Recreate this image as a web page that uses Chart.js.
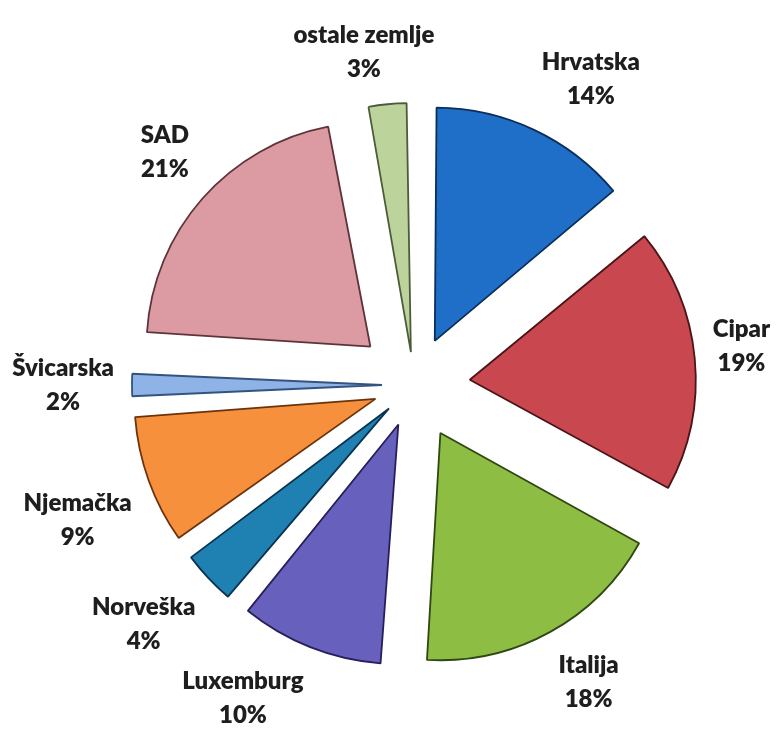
<!DOCTYPE html>
<html lang="hr">
<head>
  <meta charset="UTF-8" />
  <title>Prihodi po tržištima</title>
  <script src="https://cdn.jsdelivr.net/npm/chart.js"></script>
  <style>
    html, body { margin: 0; padding: 0; background: #fff; }
    #wrap { width: 776px; height: 742px; }
  </style>
</head>
<body>
  <div id="wrap"><canvas id="pie"></canvas></div>

  <script>
    // data, clockwise from 12 o'clock
    const countries = ["Hrvatska", "Cipar", "Italija", "Luxemburg", "Norveška", "Njemačka", "Švicarska", "SAD", "ostale zemlje"];
    const shares = [14, 19, 18, 10, 4, 9, 2, 21, 3];

    const fills = ["#1f6fc8", "#c9484f", "#8dbd43", "#6760bd", "#1f80b2", "#f7903c", "#8fb3e6", "#dc9aa2", "#bcd39c"];
    const edges = ["#0b2e5a", "#4a1418", "#2f4713", "#25205a", "#0a3350", "#6a330c", "#34547f", "#5e343a", "#4c5c3a"];

    const EXPLODE = 60;   // px each slice is pulled out
    const LINE_H = 34;
    const total = shares.reduce((a, b) => a + b, 0);

    // Chart.js moves an arc by offset/4 * (2 - sin(circumference)),
    // so work back to get the same pull-out for every slice
    function sliceOffset(c) {
      const circ = shares[c.dataIndex] / total * Math.PI * 2;
      return 4 * EXPLODE / (2 - Math.sin(Math.min(Math.PI, circ)));
    }

    const clamp = v => Math.max(-1, Math.min(1, v));

    // labels sit outside, with the near corner of the text box on a ring
    const outsideLabels = {
      id: "outsideLabels",
      afterDatasetsDraw(chart) {
        const ctx = chart.ctx;
        const meta = chart.getDatasetMeta(0);
        ctx.save();
        ctx.font = "800 24px Lato";
        ctx.fillStyle = "#1e1e1e";
        ctx.textAlign = "center";
        ctx.textBaseline = "middle";
        meta.data.forEach((arc, i) => {
          const p = arc.getProps(["x", "y", "startAngle", "endAngle", "outerRadius"], true);
          const mid = (p.startAngle + p.endAngle) / 2;
          const dx = Math.cos(mid), dy = Math.sin(mid);
          const r = p.outerRadius + EXPLODE + 18;
          const lines = [countries[i], shares[i] + "%"];
          const w = Math.max(...lines.map(t => ctx.measureText(t).width));
          const h = LINE_H * 2;
          let x = p.x + dx * r + w / 2 * clamp(dx * 3.3);
          const y = p.y + dy * r + h / 2 * clamp(dy * 3.3);
          x = Math.min(Math.max(x, w / 2 + 3), chart.width - w / 2 - 3);
          ctx.fillText(lines[0], x, y - LINE_H / 2);
          ctx.fillText(lines[1], x, y + LINE_H / 2);
        });
        ctx.restore();
      }
    };

    new Chart(document.getElementById("pie"), {
      type: "pie",
      data: {
        labels: countries,
        datasets: [{
          data: shares,
          backgroundColor: fills,
          borderColor: edges,
          borderWidth: 1.8,
          offset: sliceOffset,
          hoverOffset: 0
        }]
      },
      options: {
        responsive: true,
        maintainAspectRatio: false,
        animation: false,
        radius: 222,
        layout: { padding: { left: 52, right: 0, top: 28, bottom: 0 } },
        plugins: {
          legend: { display: false },
          tooltip: { enabled: false }
        }
      },
      plugins: [outsideLabels]
    });
  </script>
</body>
</html>
